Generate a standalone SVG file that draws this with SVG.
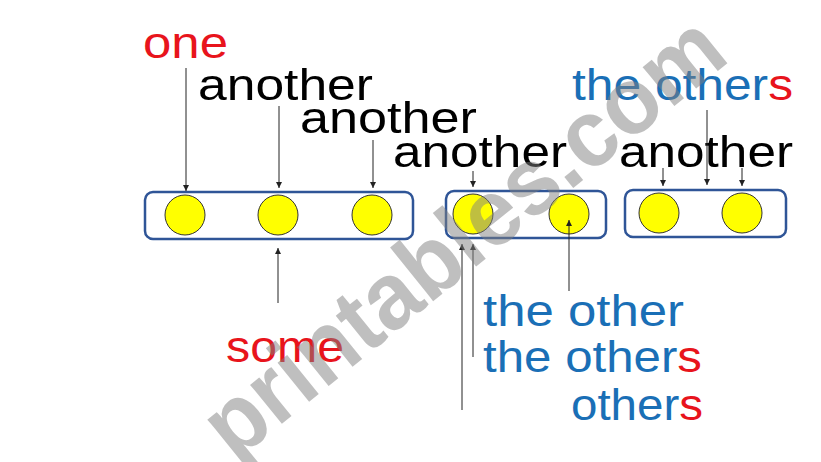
<svg xmlns="http://www.w3.org/2000/svg" width="821" height="462" viewBox="0 0 821 462">
<defs>
<marker id="ah" markerWidth="8" markerHeight="8" refX="6" refY="3" orient="auto" markerUnits="userSpaceOnUse">
<path d="M0,0 L6,3 L0,6 Z" fill="#222"/>
</marker>
<style>
.lbl{font-family:"Liberation Sans","DejaVu Sans",sans-serif;font-size:45px}
.blk{fill:#000}
.red{fill:#e8141c}
.blu{fill:#1a6fb6}
.box{fill:#fff;stroke:#2f5597;stroke-width:2.5}
.dot{fill:#ffff00;stroke:#333;stroke-width:1}
.arr{stroke:#222;stroke-width:1;fill:none;marker-end:url(#ah)}
.wm{font-family:"Liberation Sans","DejaVu Sans",sans-serif;font-weight:bold;font-size:95px;fill:#808080;fill-opacity:0.5}
</style>
</defs>
<rect width="821" height="462" fill="#fff"/>
<g id="box1">
<rect class="box" x="145" y="192" width="268" height="47" rx="8"/>
<circle class="dot" cx="185" cy="215" r="20"/>
<circle class="dot" cx="278" cy="215" r="20"/>
<circle class="dot" cx="372" cy="215" r="20"/>
</g>
<g id="box2">
<rect class="box" x="446" y="191" width="160" height="47" rx="8"/>
<circle class="dot" cx="473" cy="214" r="20"/>
<circle class="dot" cx="569" cy="214" r="20"/>
</g>
<g id="box3">
<rect class="box" x="625" y="190" width="161" height="47" rx="8"/>
<circle class="dot" cx="659" cy="213" r="20"/>
<circle class="dot" cx="742" cy="213" r="20"/>
</g>
<g id="labels">
<text id="one" class="lbl red" x="143" y="58" textLength="85" lengthAdjust="spacingAndGlyphs">one</text>
<text id="another1" class="lbl blk" x="198" y="100" textLength="175" lengthAdjust="spacingAndGlyphs">another</text>
<text id="another2" class="lbl blk" x="300" y="133" textLength="177" lengthAdjust="spacingAndGlyphs">another</text>
<text id="another3" class="lbl blk" x="393" y="167" textLength="174" lengthAdjust="spacingAndGlyphs">another</text>
<text id="another4" class="lbl blk" x="619" y="167" textLength="174" lengthAdjust="spacingAndGlyphs">another</text>
<text id="theothers1" class="lbl blu" x="572" y="100" textLength="221" lengthAdjust="spacingAndGlyphs">the other<tspan class="red">s</tspan></text>
<text id="some" class="lbl red" x="226" y="362" textLength="118" lengthAdjust="spacingAndGlyphs">some</text>
<text id="theother" class="lbl blu" x="483" y="326" textLength="201" lengthAdjust="spacingAndGlyphs">the other</text>
<text id="theothers2" class="lbl blu" x="483" y="372" textLength="219" lengthAdjust="spacingAndGlyphs">the other<tspan class="red">s</tspan></text>
<text id="others" class="lbl blu" x="571" y="420" textLength="132" lengthAdjust="spacingAndGlyphs">other<tspan class="red">s</tspan></text>
</g>
<g id="connectors">
<line class="arr" x1="186" y1="68" x2="186" y2="191"/>
<line class="arr" x1="279" y1="106" x2="279" y2="188"/>
<line class="arr" x1="373" y1="140" x2="373" y2="188"/>
<line class="arr" x1="473" y1="171" x2="473" y2="187"/>
<line class="arr" x1="663" y1="168" x2="663" y2="186"/>
<line class="arr" x1="742" y1="168" x2="742" y2="186"/>
<line class="arr" x1="707" y1="110" x2="707" y2="185"/>
<line class="arr" x1="278" y1="303" x2="278" y2="248"/>
<line class="arr" x1="462" y1="410" x2="462" y2="244"/>
<line class="arr" x1="473" y1="357" x2="473" y2="244"/>
<line class="arr" x1="569" y1="291" x2="569" y2="220"/>
</g>
<text class="wm" transform="translate(483,261) rotate(-39)" x="0" y="0" text-anchor="middle" textLength="640" lengthAdjust="spacingAndGlyphs">printables.com</text>
</svg>
